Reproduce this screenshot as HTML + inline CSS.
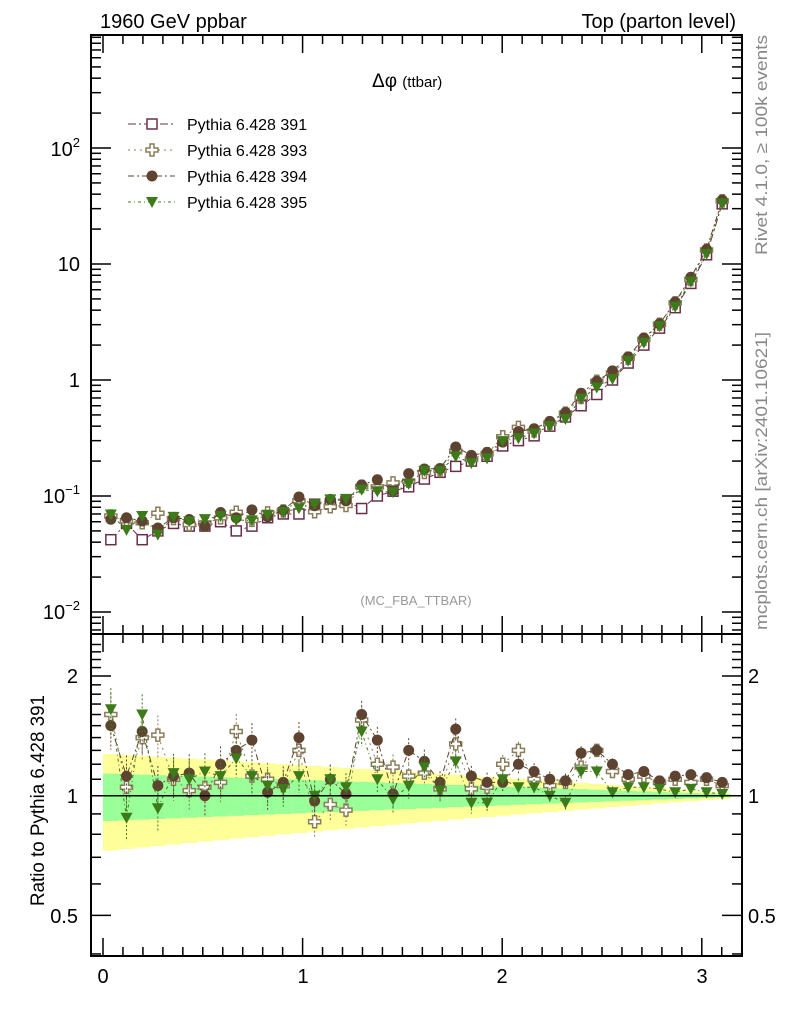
<!DOCTYPE html>
<html><head><meta charset="utf-8"><style>
html,body{margin:0;padding:0;background:#fff;}
svg{display:block;font-family:"Liberation Sans",sans-serif;}
</style></head><body>
<svg id="s" width="786" height="1024" xmlns="http://www.w3.org/2000/svg">
<rect width="786" height="1024" fill="#fff"/>
<g id="bands"></g>
<g id="data"></g>
<g id="axes" stroke="#000" fill="none" stroke-width="2"></g>
<text x="100" y="28" font-size="20">1960 GeV ppbar</text>
<text x="736" y="28" font-size="20" text-anchor="end">Top (parton level)</text>
<text x="372" y="87" font-size="19">Δφ <tspan font-size="15">(ttbar)</tspan></text>
<text x="416" y="605" font-size="13" fill="#999" text-anchor="middle">(MC_FBA_TTBAR)</text>
<text transform="translate(767,255) rotate(-90)" font-size="17" fill="#888" textLength="220" lengthAdjust="spacingAndGlyphs">Rivet 4.1.0, ≥ 100k events</text>
<text transform="translate(767,630) rotate(-90)" font-size="17" fill="#888" textLength="298" lengthAdjust="spacingAndGlyphs">mcplots.cern.ch [arXiv:2401.10621]</text>
<text transform="translate(44,906) rotate(-90)" font-size="19" textLength="211" lengthAdjust="spacingAndGlyphs">Ratio to Pythia 6.428 391</text>
<g font-size="20">
<text x="80" y="156" text-anchor="end">10<tspan font-size="13" dy="-9">2</tspan></text>
<text x="80" y="271" text-anchor="end">10</text>
<text x="80" y="387" text-anchor="end">1</text>
<text x="80" y="503" text-anchor="end">10<tspan font-size="13" dy="-9">−1</tspan></text>
<text x="80" y="619" text-anchor="end">10<tspan font-size="13" dy="-9">−2</tspan></text>
<text x="78" y="683" text-anchor="end">2</text>
<text x="78" y="803" text-anchor="end">1</text>
<text x="78" y="923" text-anchor="end">0.5</text>
<text x="748" y="683">2</text>
<text x="748" y="803">1</text>
<text x="748" y="923">0.5</text>
<text x="103" y="983" text-anchor="middle">0</text>
<text x="303" y="983" text-anchor="middle">1</text>
<text x="502" y="983" text-anchor="middle">2</text>
<text x="702" y="983" text-anchor="middle">3</text>
</g>
<g id="legend" font-size="16"></g>
</svg>
<script>
const NS="http://www.w3.org/2000/svg";
function el(p,t,a){const e=document.createElementNS(NS,t);for(const k in a)e.setAttribute(k,a[k]);p.appendChild(e);return e;}
const X=v=>103+199.6*v, YM=v=>380-116*Math.log10(v), YR=r=>795.7-397.7*Math.log10(r);
const L=91,R=742,T=35,M=634,B=956;
const ax=document.getElementById('axes');
el(ax,'rect',{x:L,y:T,width:R-L,height:M-T});
el(ax,'rect',{x:L,y:M,width:R-L,height:B-M});
for(let i=0;i<=32;i++){const v=i*0.1;const x=X(v);if(x>R)break;const big=i%10==0;const h=big?18:9;
 for(const [y0,d] of [[T,1],[M,-1],[M,1],[B,-1]]) el(ax,'line',{x1:x,x2:x,y1:y0,y2:y0+d*h,'stroke-width':1.5});}
for(let e=-3;e<=2;e++)for(let m=1;m<10;m++){const v=m*Math.pow(10,e);const y=YM(v);if(y<T||y>M)continue;const h=m==1?20:10;
 el(ax,'line',{x1:L,x2:L+h,y1:y,y2:y,'stroke-width':1.5});el(ax,'line',{x1:R,x2:R-h,y1:y,y2:y,'stroke-width':1.5});}
for(let r=0.4;r<=2.5;r+=0.1){const y=YR(r);if(y<M||y>B)continue;const big=Math.abs(r-0.5)<1e-6||Math.abs(r-1)<1e-6||Math.abs(r-2)<1e-6;const h=big?20:10;
 el(ax,'line',{x1:L,x2:L+h,y1:y,y2:y,'stroke-width':1.5});el(ax,'line',{x1:R,x2:R-h,y1:y,y2:y,'stroke-width':1.5});}
el(ax,'line',{x1:L,x2:R,y1:YR(1),y2:YR(1),'stroke-width':1.5});
const N=40,w=Math.PI/N;
const base=[0.042,0.058,0.042,0.05,0.058,0.055,0.055,0.06,0.05,0.055,0.065,0.07,0.07,0.085,0.085,0.09,0.078,0.1,0.11,0.12,0.14,0.16,0.18,0.2,0.22,0.27,0.3,0.33,0.4,0.48,0.6,0.75,1.0,1.4,2.0,2.8,4.2,6.8,12,33];
const r394=[1.5,1.12,1.45,1.06,1.12,1.14,1.0,1.2,1.3,1.38,1.02,1.08,1.4,0.97,1.1,1.01,1.6,1.38,1.01,1.3,1.22,1.08,1.47,1.12,1.08,1.08,1.2,1.15,1.1,1.09,1.28,1.3,1.2,1.13,1.15,1.09,1.12,1.13,1.11,1.08];
const r395=[1.65,0.88,1.6,0.93,1.14,1.1,1.15,1.12,1.24,1.12,1.06,1.04,1.12,1.0,1.1,1.05,1.45,1.1,0.98,1.06,1.18,1.03,1.22,0.96,0.96,1.1,1.05,1.05,1.0,0.96,1.15,1.15,1.02,1.05,1.05,1.04,1.02,1.04,1.02,1.01];
const r393=[1.6,1.05,1.4,1.42,1.1,1.03,1.05,1.08,1.45,1.12,1.1,1.06,1.3,0.86,0.95,0.92,1.55,1.2,1.18,1.12,1.14,1.04,1.35,1.04,1.05,1.2,1.3,1.1,1.06,1.08,1.18,1.3,1.15,1.1,1.12,1.08,1.1,1.08,1.1,1.06];
const bg=document.getElementById('bands');
for(let i=0;i<N;i++){const f=1-i/N;const yy=0.26*f+0.012, gg=0.13*f+0.006;
 const x0=X(i*w),x1=X((i+1)*w);
 el(bg,'rect',{x:x0,y:YR(1+yy),width:x1-x0+0.5,height:YR(1-yy)-YR(1+yy),fill:'#ffff99'});
 el(bg,'rect',{x:x0,y:YR(1+gg),width:x1-x0+0.5,height:YR(1-gg)-YR(1+gg),fill:'#99ff99'});}
const series=[
 {c:'#6b2e4a',m:'sq',r:base.map(()=>1),dash:'8,3,2,3'},
 {c:'#8b7d5a',m:'cross',r:r393,dash:'2,4'},
 {c:'#5e4430',m:'circ',r:r394,dash:'6,3,2,3'},
 {c:'#3d7a1a',m:'tri',r:r395,dash:'3,3,1,3'}];
const dg=document.getElementById('data');
function marker(g,m,x,y,c){
 if(m=='sq')el(g,'rect',{x:x-5,y:y-5,width:10,height:10,fill:'#fff',stroke:c,'stroke-width':1.5});
 else if(m=='circ')el(g,'circle',{cx:x,cy:y,r:5.5,fill:c});
 else if(m=='tri')el(g,'path',{d:`M${x-6},${y-5}L${x+6},${y-5}L${x},${y+6}Z`,fill:c});
 else el(g,'path',{d:`M${x-2},${y-6}h4v4h4v4h-4v4h-4v-4h-4v-4h4Z`,fill:'#fff',stroke:c,'stroke-width':1.5});}
series.forEach((s,k)=>{
 const pm=[],pr=[];
 for(let i=0;i<N;i++){const x=X((i+0.5)*w);pm.push([x,YM(base[i]*s.r[i])]);pr.push([x,YR(s.r[i])]);}
 el(dg,'polyline',{points:pm.map(p=>p.join(',')).join(' '),fill:'none',stroke:s.c,'stroke-width':1,'stroke-dasharray':s.dash});
 if(k>0)el(dg,'polyline',{points:pr.map(p=>p.join(',')).join(' '),fill:'none',stroke:s.c,'stroke-width':1,'stroke-dasharray':s.dash});
 for(let i=0;i<N;i++){
  const e=0.12*(1-i/N)+0.01;
  if(k>0){const [x,y]=pr[i];el(dg,'line',{x1:x,x2:x,y1:YR(s.r[i]*(1+e)),y2:YR(s.r[i]*(1-e)),stroke:s.c,'stroke-width':1,'stroke-dasharray':'2,2'});marker(dg,s.m,x,y,s.c);}
  marker(dg,s.m,pm[i][0],pm[i][1],s.c);}
});
const lg=document.getElementById('legend');
['Pythia 6.428 391','Pythia 6.428 393','Pythia 6.428 394','Pythia 6.428 395'].forEach((t,k)=>{
 const y=124+26*k,s=series[k];
 el(lg,'line',{x1:128,x2:175,y1:y,y2:y,stroke:s.c,'stroke-width':1,'stroke-dasharray':s.dash});
 marker(lg,s.m,152,y,s.c);
 const tx=el(lg,'text',{x:187,y:y+6,fill:'#000'});tx.textContent=t;});
</script>
</body></html>
